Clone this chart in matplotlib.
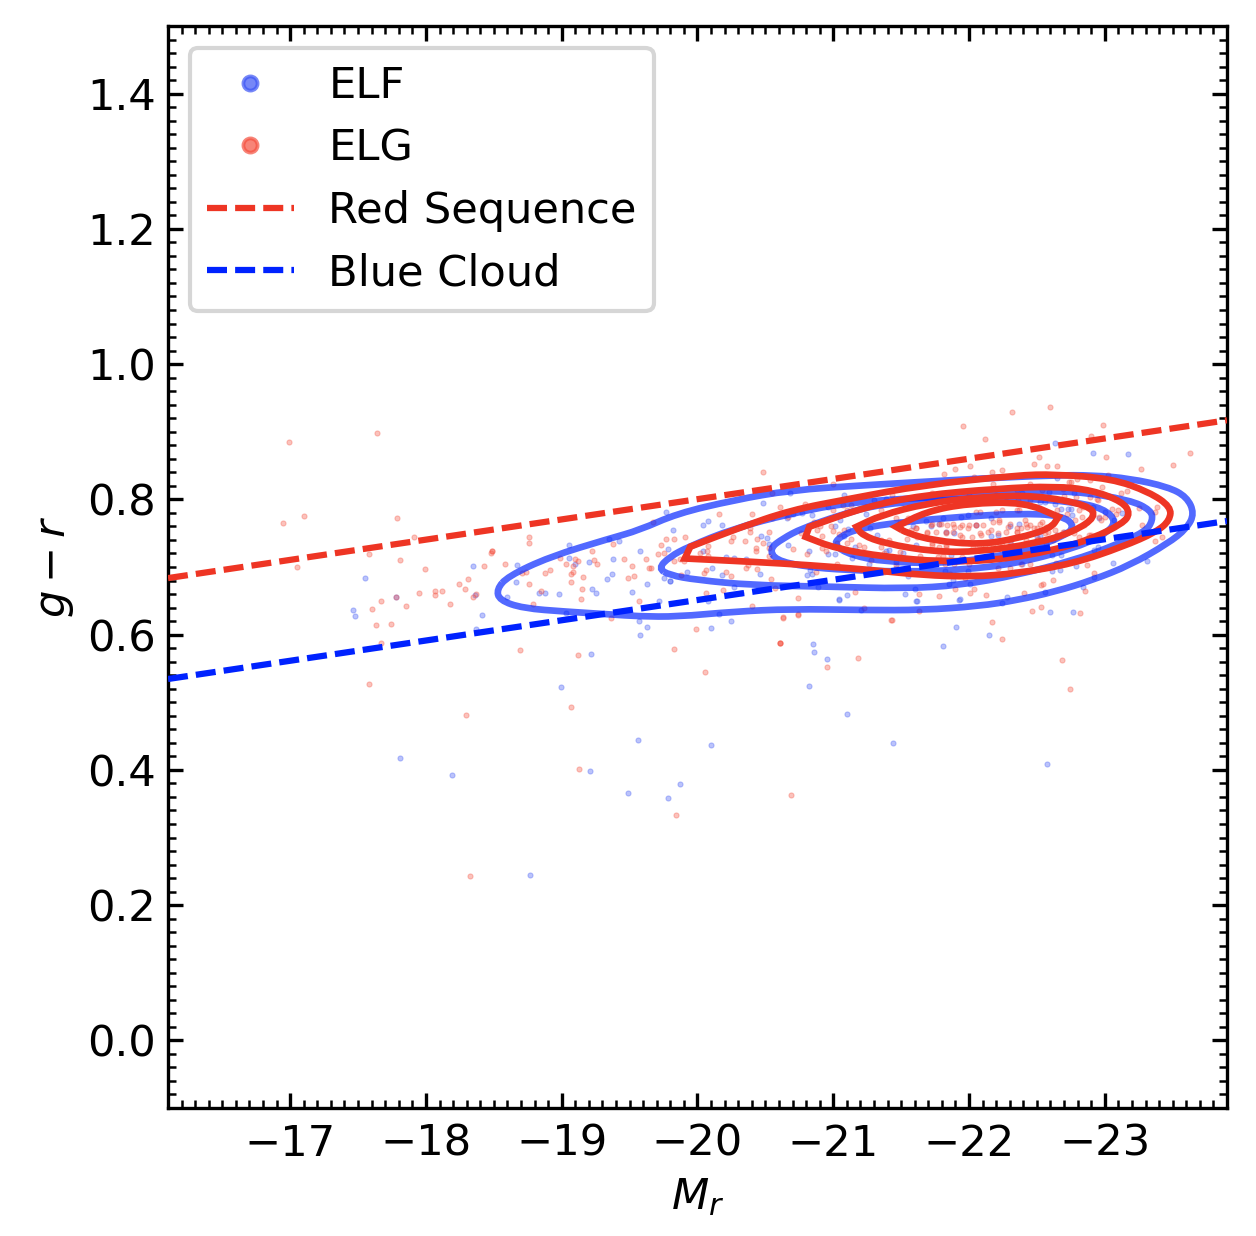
"""Colour-magnitude diagram of ELF and ELG galaxies."""
import matplotlib
matplotlib.use("Agg")
import matplotlib.pyplot as plt
from matplotlib.lines import Line2D
from matplotlib.patches import PathPatch
from matplotlib.path import Path
from matplotlib.ticker import AutoMinorLocator

# scatter values
elf_mr = [-21.04, -21.203, -21.616, -21.923, -21.903, -21.81, -22.144, -22.245, -22.594, -22.766, -20.852, -20.855,
          -20.955, -20.82, -21.098, -21.439, -22.576, -19.216, -18.992, -19.56, -20.10, -17.811, -18.189, -19.206,
          -19.872, -19.488, -19.786, -18.764, -22.63, -22.91, -23.17, -22.00, -22.20, -22.39, -22.59, -22.77, -22.65,
          -22.52, -22.56, -22.63, -22.68, -22.73, -22.75, -22.76, -22.91, -23.00, -23.13, -23.07, -22.96, -22.30,
          -22.37, -22.16, -22.05, -21.99, -21.81, -21.72, -21.78, -21.83, -21.89, -21.94, -22.16, -22.21, -22.31,
          -22.50, -22.52, -22.65, -22.70, -21.87, -22.95, -22.92, -22.68, -22.61, -22.39, -23.06, -22.79, -23.31,
          -22.61, -22.67, -22.34, -22.92, -22.01, -21.85, -21.88, -21.82, -21.99, -22.84, -22.56, -22.28, -21.93,
          -20.48, -20.68, -20.04, -20.08, -20.18, -19.82, -20.04, -20.21, -20.27, -20.36, -20.47, -20.51, -20.53,
          -20.67, -20.82, -20.66, -20.77, -20.84, -20.70, -19.92, -19.80, -20.11, -20.18, -20.46, -20.32, -20.27,
          -20.08, -20.16, -20.25, -20.10, -20.81, -20.84, -20.83, -20.89, -21.04, -21.10, -20.96, -21.05, -21.08,
          -21.01, -21.11, -21.08, -21.16, -20.96, -21.01, -21.14, -21.26, -21.46, -21.55, -21.53, -21.61, -21.60,
          -21.32, -21.39, -21.41, -21.51, -21.46, -21.27, -21.30, -21.24, -21.39, -21.68, -21.59, -21.61, -17.55,
          -17.46, -17.48, -17.78, -18.35, -18.36, -18.41, -18.37, -18.60, -18.66, -18.67, -18.83, -18.88, -18.98,
          -19.03, -19.05, -19.05, -19.10, -19.20, -19.22, -19.25, -19.33, -19.35, -19.37, -19.38, -19.42, -19.52,
          -19.58, -19.63, -19.57, -19.63, -19.58, -19.72, -19.75, -19.78, -19.80, -19.77]
elf_gr = [.651, .636, .650, .651, .612, .583, .599, .647, .634, .634, .586, .575,
          .564, .524, .483, .440, .408, .572, .523, .444, .437, .418, .392, .398,
          .379, .366, .359, .244, .884, .868, .867, .806, .807, .810, .811, .810, .831,
          .796, .796, .793, .786, .786, .786, .777, .789, .782, .780, .769, .772, .760,
          .763, .772, .762, .777, .773, .760, .763, .752, .750, .774, .746, .747, .734,
          .745, .746, .747, .752, .718, .730, .725, .718, .718, .705, .706, .702, .709,
          .694, .695, .693, .685, .675, .675, .681, .694, .694, .671, .663, .655, .652,
          .794, .809, .762, .768, .762, .754, .723, .715, .713, .712, .746, .743, .734,
          .733, .724, .772, .780, .777, .779, .693, .679, .699, .688, .690, .661, .671,
          .649, .631, .620, .610, .688, .690, .695, .670, .652, .659, .789, .770, .806,
          .760, .756, .746, .730, .719, .719, .714, .705, .698, .686, .660, .650, .668,
          .747, .724, .725, .721, .708, .757, .799, .779, .801, .768, .760, .732, .684,
          .636, .628, .655, .701, .658, .629, .608, .655, .678, .703, .661, .662, .660,
          .632, .733, .713, .704, .708, .668, .661, .682, .742, .690, .712, .739, .663,
          .723, .675, .620, .612, .599, .649, .683, .727, .679, .781]

elg_mr = [-18.695, -19.118, -19.825, -20.053, -20.606, -19.066, -18.292, -19.125, -20.687, -19.842, -18.327, -20.633,
          -20.739, -20.611, -21.225, -21.427, -21.181, -20.953, -21.633, -22.166, -22.245, -22.466, -22.532, -22.815,
          -22.685, -22.744, -22.318, -22.593, -21.957, -22.114, -22.989, -22.895, -23.63, -23.006, -22.517, -22.48,
          -22.576, -22.645, -23.50, -23.266, -21.815, -21.893, -22.006, -22.168, -22.24, -22.033, -22.176, -22.446,
          -22.733, -22.753, -22.792, -22.888, -23.026, -22.979, -23.163, -23.121, -23.384, -23.367, -23.252, -23.274,
          -23.424, -23.367, -22.868, -22.642, -22.918, -22.615, -22.542, -22.527, -22.851, -22.402, -22.127, -22.009,
          -22.038, -21.90, -21.78, -22.05, -22.08, -22.20, -22.24, -22.35, -22.37, -21.73, -21.79, -21.84, -21.88,
          -21.93, -21.95, -22.00, -22.05, -22.10, -22.18, -22.22, -22.30, -22.35, -22.41, -22.45, -22.52, -22.57,
          -21.76, -21.83, -21.88, -21.95, -22.02, -22.08, -22.14, -22.21, -22.27, -22.35, -22.38, -22.43, -22.50,
          -22.56, -22.63, -22.65, -22.69, -21.73, -21.78, -21.83, -21.90, -22.00, -22.07, -22.18, -22.24, -22.30,
          -22.42, -22.51, -22.57, -22.78, -22.83, -22.85, -22.77, -22.81, -22.88, -22.90, -22.96, -22.95, -22.94,
          -22.89, -22.79, -22.70, -23.10, -23.08, -23.05, -23.00, -22.97, -22.84, -22.81, -22.65, -22.72, -22.45,
          -22.36, -22.27, -22.19, -22.09, -22.00, -21.91, -21.83, -21.76, -21.72, -21.83, -21.95, -22.00, -21.89,
          -21.82, -21.77, -22.21, -22.30, -22.45, -22.38, -21.97, -21.86, -21.73, -22.35, -22.54, -22.69, -20.48,
          -21.00, -20.55, -20.16, -20.40, -20.61, -20.79, -19.83, -19.91, -20.26, -20.25, -20.35, -20.39, -20.39,
          -20.44, -20.53, -20.48, -20.43, -20.43, -20.07, -20.08, -20.02, -20.08, -19.83, -19.87, -19.90, -20.53,
          -20.53, -20.37, -20.36, -20.44, -20.06, -20.05, -20.21, -20.25, -19.88, -20.54, -20.19, -20.06, -20.57,
          -20.74, -20.40, -20.63, -20.74, -19.99, -20.61, -21.16, -21.43, -21.63, -20.70, -20.81, -20.76, -20.92,
          -20.88, -20.86, -20.90, -20.98, -21.00, -21.04, -21.08, -21.03, -20.92, -20.95, -21.07, -21.10, -21.00,
          -21.13, -21.19, -21.23, -21.10, -21.13, -21.35, -21.35, -21.41, -21.46, -21.49, -21.55, -21.61, -21.57,
          -21.54, -21.62, -21.69, -21.35, -21.43, -21.28, -21.46, -21.37, -21.03, -20.87, -20.67, -20.55, -16.99,
          -17.64, -17.10, -16.95, -17.79, -17.91, -17.58, -17.05, -17.81, -17.99, -17.67, -17.60, -17.63, -17.74,
          -17.67, -17.78, -17.85, -17.95, -18.07, -18.07, -18.12, -18.18, -18.24, -18.29, -18.31, -18.35, -18.37,
          -18.48, -18.49, -18.49, -18.43, -18.58, -18.71, -18.74, -18.76, -18.79, -18.85, -18.88, -18.91, -18.99,
          -19.03, -19.07, -19.07, -19.08, -19.08, -19.10, -19.12, -19.15, -19.14, -19.16, -19.22, -19.24, -19.26,
          -19.36, -19.38, -19.46, -19.52, -19.49, -19.53, -19.57, -19.62, -19.64, -19.66, -19.67, -19.71, -19.73,
          -19.75, -19.77, -17.58, -18.76, -18.76, -21.61, -21.69, -21.72, -21.78, -21.83, -21.89, -21.93, -21.99,
          -22.05, -22.09, -22.16, -22.22, -22.29, -22.35, -22.42, -22.48, -22.54, -22.58, -21.73, -21.83, -22.03,
          -22.12, -22.22, -22.32, -22.50, -22.62, -21.37, -21.49, -21.64, -21.81]
elg_gr = [.577, .570, .579, .544, .588, .493, .481, .401, .363, .333, .243, .625,
          .629, .588, .639, .621, .566, .552, .635, .619, .593, .635, .641, .632,
          .562, .519, .929, .937, .908, .889, .910, .893, .869, .863, .863, .853,
          .850, .850, .851, .845, .838, .845, .849, .841, .844, .833, .823, .822,
          .826, .826, .830, .828, .836, .818, .813, .810, .788, .781, .787, .762,
          .745, .738, .703, .706, .691, .681, .675, .673, .665, .662, .658, .662,
          .668, .668, .657, .782, .782, .782, .784, .784, .784, .764, .764, .762, .764,
          .759, .762, .762, .762, .762, .767, .769, .764, .757, .769, .762, .764, .759,
          .752, .750, .752, .745, .745, .750, .752, .750, .752, .752, .757, .759, .757,
          .750, .754, .747, .752, .732, .730, .732, .737, .735, .732, .732, .732, .735,
          .740, .742, .735, .769, .774, .762, .750, .745, .747, .747, .774, .799, .801,
          .804, .804, .805, .784, .779, .786, .774, .769, .789, .784, .784, .779, .799,
          .799, .804, .801, .799, .801, .801, .796, .794, .725, .725, .715, .705, .705,
          .705, .715, .698, .698, .705, .705, .683, .690, .809, .814, .814, .816, .840,
          .823, .810, .779, .779, .788, .793, .742, .745, .744, .738, .739, .757, .752,
          .742, .752, .735, .728, .724, .724, .731, .720, .717, .709, .712, .709, .717,
          .728, .703, .698, .697, .695, .691, .693, .687, .688, .682, .666, .662, .669,
          .654, .643, .626, .630, .609, .588, .663, .622, .660, .726, .719, .751, .746,
          .755, .767, .760, .760, .753, .749, .755, .735, .728, .723, .792, .785, .784,
          .792, .732, .729, .736, .742, .730, .740, .740, .772, .767, .772, .757, .755,
          .742, .745, .752, .784, .806, .710, .703, .693, .705, .693, .774, .772, .885,
          .898, .775, .765, .773, .745, .719, .700, .710, .697, .650, .638, .614, .615,
          .588, .656, .643, .661, .664, .658, .665, .646, .675, .668, .682, .655, .660,
          .721, .724, .723, .701, .704, .691, .693, .675, .646, .665, .691, .696, .714,
          .704, .678, .689, .692, .701, .712, .709, .667, .652, .685, .723, .710, .704,
          .624, .734, .712, .701, .683, .687, .650, .712, .699, .698, .766, .719, .732,
          .721, .741, .527, .745, .736, .757, .750, .762, .764, .752, .759, .747, .757,
          .762, .747, .755, .767, .759, .752, .764, .757, .767, .752, .735, .730, .730,
          .730, .735, .730, .740, .740, .720, .722, .717, .717]

# density contours, outermost first
elf_contours = [
    ([-18.521, -18.541, -18.713, -19.032, -19.351, -19.572, -19.85, -20.267, -20.684, -21.24, -21.658, -22.075,
      -22.353, -22.631, -22.909, -23.187, -23.465, -23.604, -23.66, -23.604, -23.465, -23.187, -22.909, -22.631,
      -22.075, -21.658, -21.24, -20.684, -20.267, -19.85, -19.572, -19.351, -18.909, -18.602],
     [.667, .651, .639, .634, .630, .627, .6265, .634, .638, .6363, .6363, .6422,
      .651, .6634, .6806, .7028, .7348, .757, .7791, .8037, .8185, .8308, .8357, .8357,
      .8308, .8259, .821, .8136, .7988, .7791, .7545, .742, .715, .686]),
    ([-19.711, -19.794, -19.934, -20.267, -20.684, -21.129, -21.797, -22.353, -22.77, -23.187, -23.34, -23.354,
      -23.298, -23.048, -22.77, -22.353, -21.936, -21.519, -20.962, -20.406, -19.989, -19.794],
     [.698, .715, .730, .757, .779, .796, .804, .811, .8126, .799, .784, .769,
      .752, .730, .710, .688, .673, .668, .671, .673, .681, .688]),
    ([-20.531, -20.629, -20.768, -21.046, -21.352, -21.991, -22.408, -22.77, -22.992, -23.09, -22.992, -22.77,
      -22.353, -21.936, -21.519, -21.1, -20.796, -20.573],
     [.7274, .7422, .757, .7766, .7939, .8012, .8012, .7963, .7865, .7668, .7471, .7274,
      .7052, .6954, .693, .6954, .7003, .7102]),
    ([-21.004, -21.046, -21.185, -21.519, -21.936, -22.353, -22.686, -22.784, -22.686, -22.492, -22.214, -21.797,
      -21.379, -21.129],
     [.7323, .7446, .757, .7668, .7742, .7791, .7766, .7594, .7446, .7299, .715, .7052,
      .7077, .7175]),
]
# a repeated vertex keeps a sharp tip where the original outline has one
elg_contours = [
    ([-19.906, -19.906, -19.947, -19.947, -20.295, -20.684, -21.129, -21.658, -22.353, -22.631, -23.048, -23.326,
      -23.487, -23.479, -23.382, -23.132, -22.77, -22.353, -22.019, -21.658, -21.296, -20.823, -20.406],
     [.7126, .7126, .730, .730, .757, .784, .8012, .821, .8357, .8372, .8308, .811,
      .789, .7692, .752, .730, .7052, .6905, .6855, .688, .6954, .7028, .7077]),
    ([-20.796, -20.796, -20.823, -20.823, -21.24, -21.658, -22.214, -22.631, -22.909, -23.132, -23.187, -23.132,
      -22.909, -22.631, -22.214, -21.797, -21.379, -21.018],
     [.7446, .7446, .7594, .7594, .789, .8062, .816, .8195, .8136, .7963, .7791, .7643,
      .7422, .725, .7102, .7077, .715, .7274]),
    ([-21.171, -21.171, -21.352, -21.685, -22.075, -22.492, -22.881, -22.936, -22.77, -22.492, -22.075, -21.741,
      -21.379, -21.213],
     [.7594, .7594, .7766, .7939, .8037, .8062, .7914, .7742, .752, .7348, .7225, .7225,
      .7348, .7471]),
    ([-21.463, -21.463, -21.685, -21.991, -22.408, -22.659, -22.659, -22.603, -22.353, -22.075, -21.741, -21.546],
     [.7594, .7594, .782, .794, .796, .7742, .7742, .757, .742, .733, .739, .750]),
]

seq_mr = [-16.1, -23.9]
red_seq_gr = [.6836, .917]
blue_cloud_gr = [.5344, .768]

RED = "#EE3524"
BLUE = "#0022FF"
ELF_C = "#3C55F5"
ELG_C = "#F5503F"
DASH = (0, (3.2, 1.3))
FS = 10.4


def smooth_closed(xs, ys):
    """Closed quadratic path rounded through the traced outline."""
    n = len(xs)
    mids = [((xs[i] + xs[(i + 1) % n]) / 2, (ys[i] + ys[(i + 1) % n]) / 2) for i in range(n)]
    verts, codes = [mids[-1]], [Path.MOVETO]
    for i in range(n):
        verts += [(xs[i], ys[i]), mids[i]]
        codes += [Path.CURVE3, Path.CURVE3]
    return Path(verts, codes)


fig = plt.figure(figsize=(1256 / 300, 1236 / 300), dpi=300)
ax = fig.add_axes([168 / 1256, 1 - 1108 / 1236, 1059 / 1256, 1082 / 1236])

ax.scatter(elf_mr, elf_gr, s=1.5, color=ELF_C, alpha=0.35, lw=0.25, zorder=2)
ax.scatter(elg_mr, elg_gr, s=1.5, color=ELG_C, alpha=0.35, lw=0.25, zorder=2)

for cx, cy in elf_contours:
    ax.add_patch(PathPatch(smooth_closed(cx, cy), fill=False, edgecolor=BLUE, alpha=0.68, lw=1.6, zorder=3))
for cx, cy in elg_contours:
    ax.add_patch(PathPatch(smooth_closed(cx, cy), fill=False, edgecolor=RED, lw=1.6, zorder=4))

ax.plot(seq_mr, red_seq_gr, color=RED, lw=1.5, ls=DASH, zorder=5)
ax.plot(seq_mr, blue_cloud_gr, color=BLUE, lw=1.5, ls=DASH, zorder=5)

ax.set_xlim(-16.1, -23.9)
ax.set_ylim(-0.1, 1.5)
ax.set_xticks([-17, -18, -19, -20, -21, -22, -23])
ax.set_yticks([0.0, 0.2, 0.4, 0.6, 0.8, 1.0, 1.2, 1.4])
ax.xaxis.set_minor_locator(AutoMinorLocator(10))
ax.yaxis.set_minor_locator(AutoMinorLocator(10))
ax.tick_params(which="both", direction="in", top=True, right=True, labelsize=FS)
ax.tick_params(axis="y", which="major", pad=2.8)
ax.tick_params(which="major", length=3.5, width=0.8)
ax.tick_params(which="minor", length=2, width=0.6)
ax.set_xlabel(r"$M_r$", fontsize=FS, labelpad=2.7)
ax.set_ylabel(r"$g-r$", fontsize=FS, labelpad=2.7)

handles = [
    Line2D([], [], ls="", marker="o", ms=3.4, mew=0.9, color=ELF_C, alpha=0.7),
    Line2D([], [], ls="", marker="o", ms=3.4, mew=0.9, color=ELG_C, alpha=0.7),
    Line2D([], [], color=RED, lw=1.5, ls=DASH),
    Line2D([], [], color=BLUE, lw=1.5, ls=DASH),
]
ax.legend(handles, ["ELF", "ELG", "Red Sequence", "Blue Cloud"], loc="upper left", fontsize=FS, labelspacing=0.47)

fig.savefig("out.png", dpi=300)
